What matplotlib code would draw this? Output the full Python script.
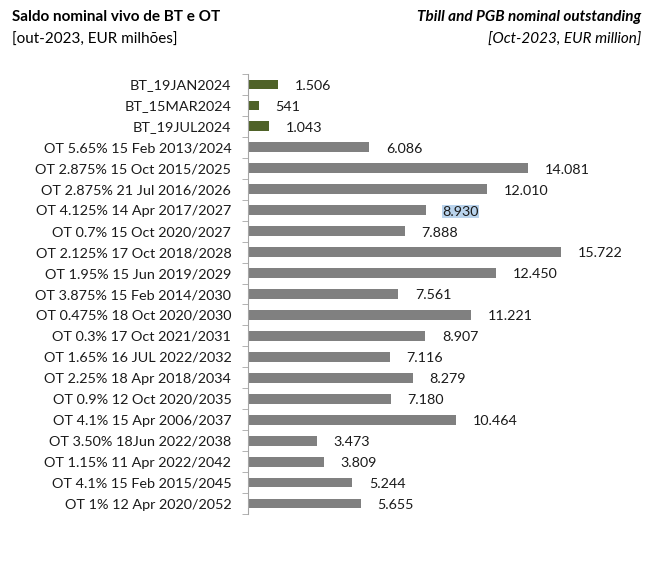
import matplotlib.pyplot as plt
import numpy as np

# data (EUR million, Oct-2023)
labels = ["BT_19JAN2024", "BT_15MAR2024", "BT_19JUL2024",
          "OT 5.65% 15 Feb 2013/2024", "OT 2.875% 15 Oct 2015/2025",
          "OT 2.875% 21 Jul 2016/2026", "OT 4.125% 14 Apr 2017/2027",
          "OT 0.7% 15 Oct 2020/2027", "OT 2.125% 17 Oct 2018/2028",
          "OT 1.95% 15 Jun 2019/2029", "OT 3.875% 15 Feb 2014/2030",
          "OT 0.475% 18 Oct 2020/2030", "OT 0.3% 17 Oct 2021/2031",
          "OT 1.65% 16 JUL 2022/2032", "OT 2.25% 18 Apr 2018/2034",
          "OT 0.9% 12 Oct 2020/2035", "OT 4.1% 15 Apr 2006/2037",
          "OT 3.50% 18Jun 2022/2038", "OT 1.15% 11 Apr 2022/2042",
          "OT 4.1% 15 Feb 2015/2045", "OT 1% 12 Apr 2020/2052"]
values = [1506, 541, 1043, 6086, 14081, 12010, 8930, 7888, 15722, 12450,
          7561, 11221, 8907, 7116, 8279, 7180, 10464, 3473, 3809, 5244, 5655]
is_bt = [l.startswith("BT") for l in labels]

plt.rcParams['font.family'] = ['Lato', 'DejaVu Sans']

W, H = 671, 561
fig = plt.figure(figsize=(W / 100, H / 100), dpi=100)
fig.patch.set_facecolor('white')

# axes placed in pixel coords
x0, x1 = 248, 640
y_top, y_bot = 74, 514
ax = fig.add_axes([x0 / W, 1 - y_bot / H, (x1 - x0) / W, (y_bot - y_top) / H])
scale = 0.0199  # px per EUR million
ax.set_xlim(0, (x1 - x0) / scale)
n = len(labels)
ax.set_ylim(n - 0.5, -0.5)

ypos = np.arange(n)
colors = ['#4f6228' if b else '#808080' for b in is_bt]
ax.barh(ypos, values, height=0.47, color=colors)

def fmt(v):
    return f"{v:,}".replace(",", ".")

for y, v in zip(ypos, values):
    t = ax.annotate(fmt(v), (v, y), xytext=(12, -1), textcoords='offset points',
                    va='center', ha='left', fontsize=10.3, color='#1a1a1a')
    if v == 8930:
        t.set_bbox(dict(boxstyle='square,pad=0.05', facecolor='#b9d3ec',
                        edgecolor='none'))

for s in ['top', 'right', 'bottom']:
    ax.spines[s].set_visible(False)
ax.spines['left'].set_color('#a6a6a6')
ax.set_xticks([])
ax.set_yticks(ypos)
ax.set_yticklabels(labels, fontsize=10.4, color='#1a1a1a')
ax.tick_params(axis='y', which='major', length=0, pad=12)
ax.set_yticks(np.arange(n + 1) - 0.5, minor=True)
ax.tick_params(axis='y', which='minor', length=4, color='#a6a6a6')

fig.text(12 / W, 1 - 17 / H, "Saldo nominal vivo de BT e OT", fontsize=11,
         fontweight='bold', va='center', ha='left')
fig.text(12 / W, 1 - 40 / H, "[out-2023, EUR milhões]", fontsize=11,
         va='center', ha='left')
fig.text(641 / W, 1 - 17 / H, "Tbill and PGB nominal outstanding", fontsize=11,
         fontweight='bold', style='italic', va='center', ha='right')
fig.text(641 / W, 1 - 40 / H, "[Oct-2023, EUR million]", fontsize=11,
         style='italic', va='center', ha='right')

fig.savefig("out.png", dpi=100)
